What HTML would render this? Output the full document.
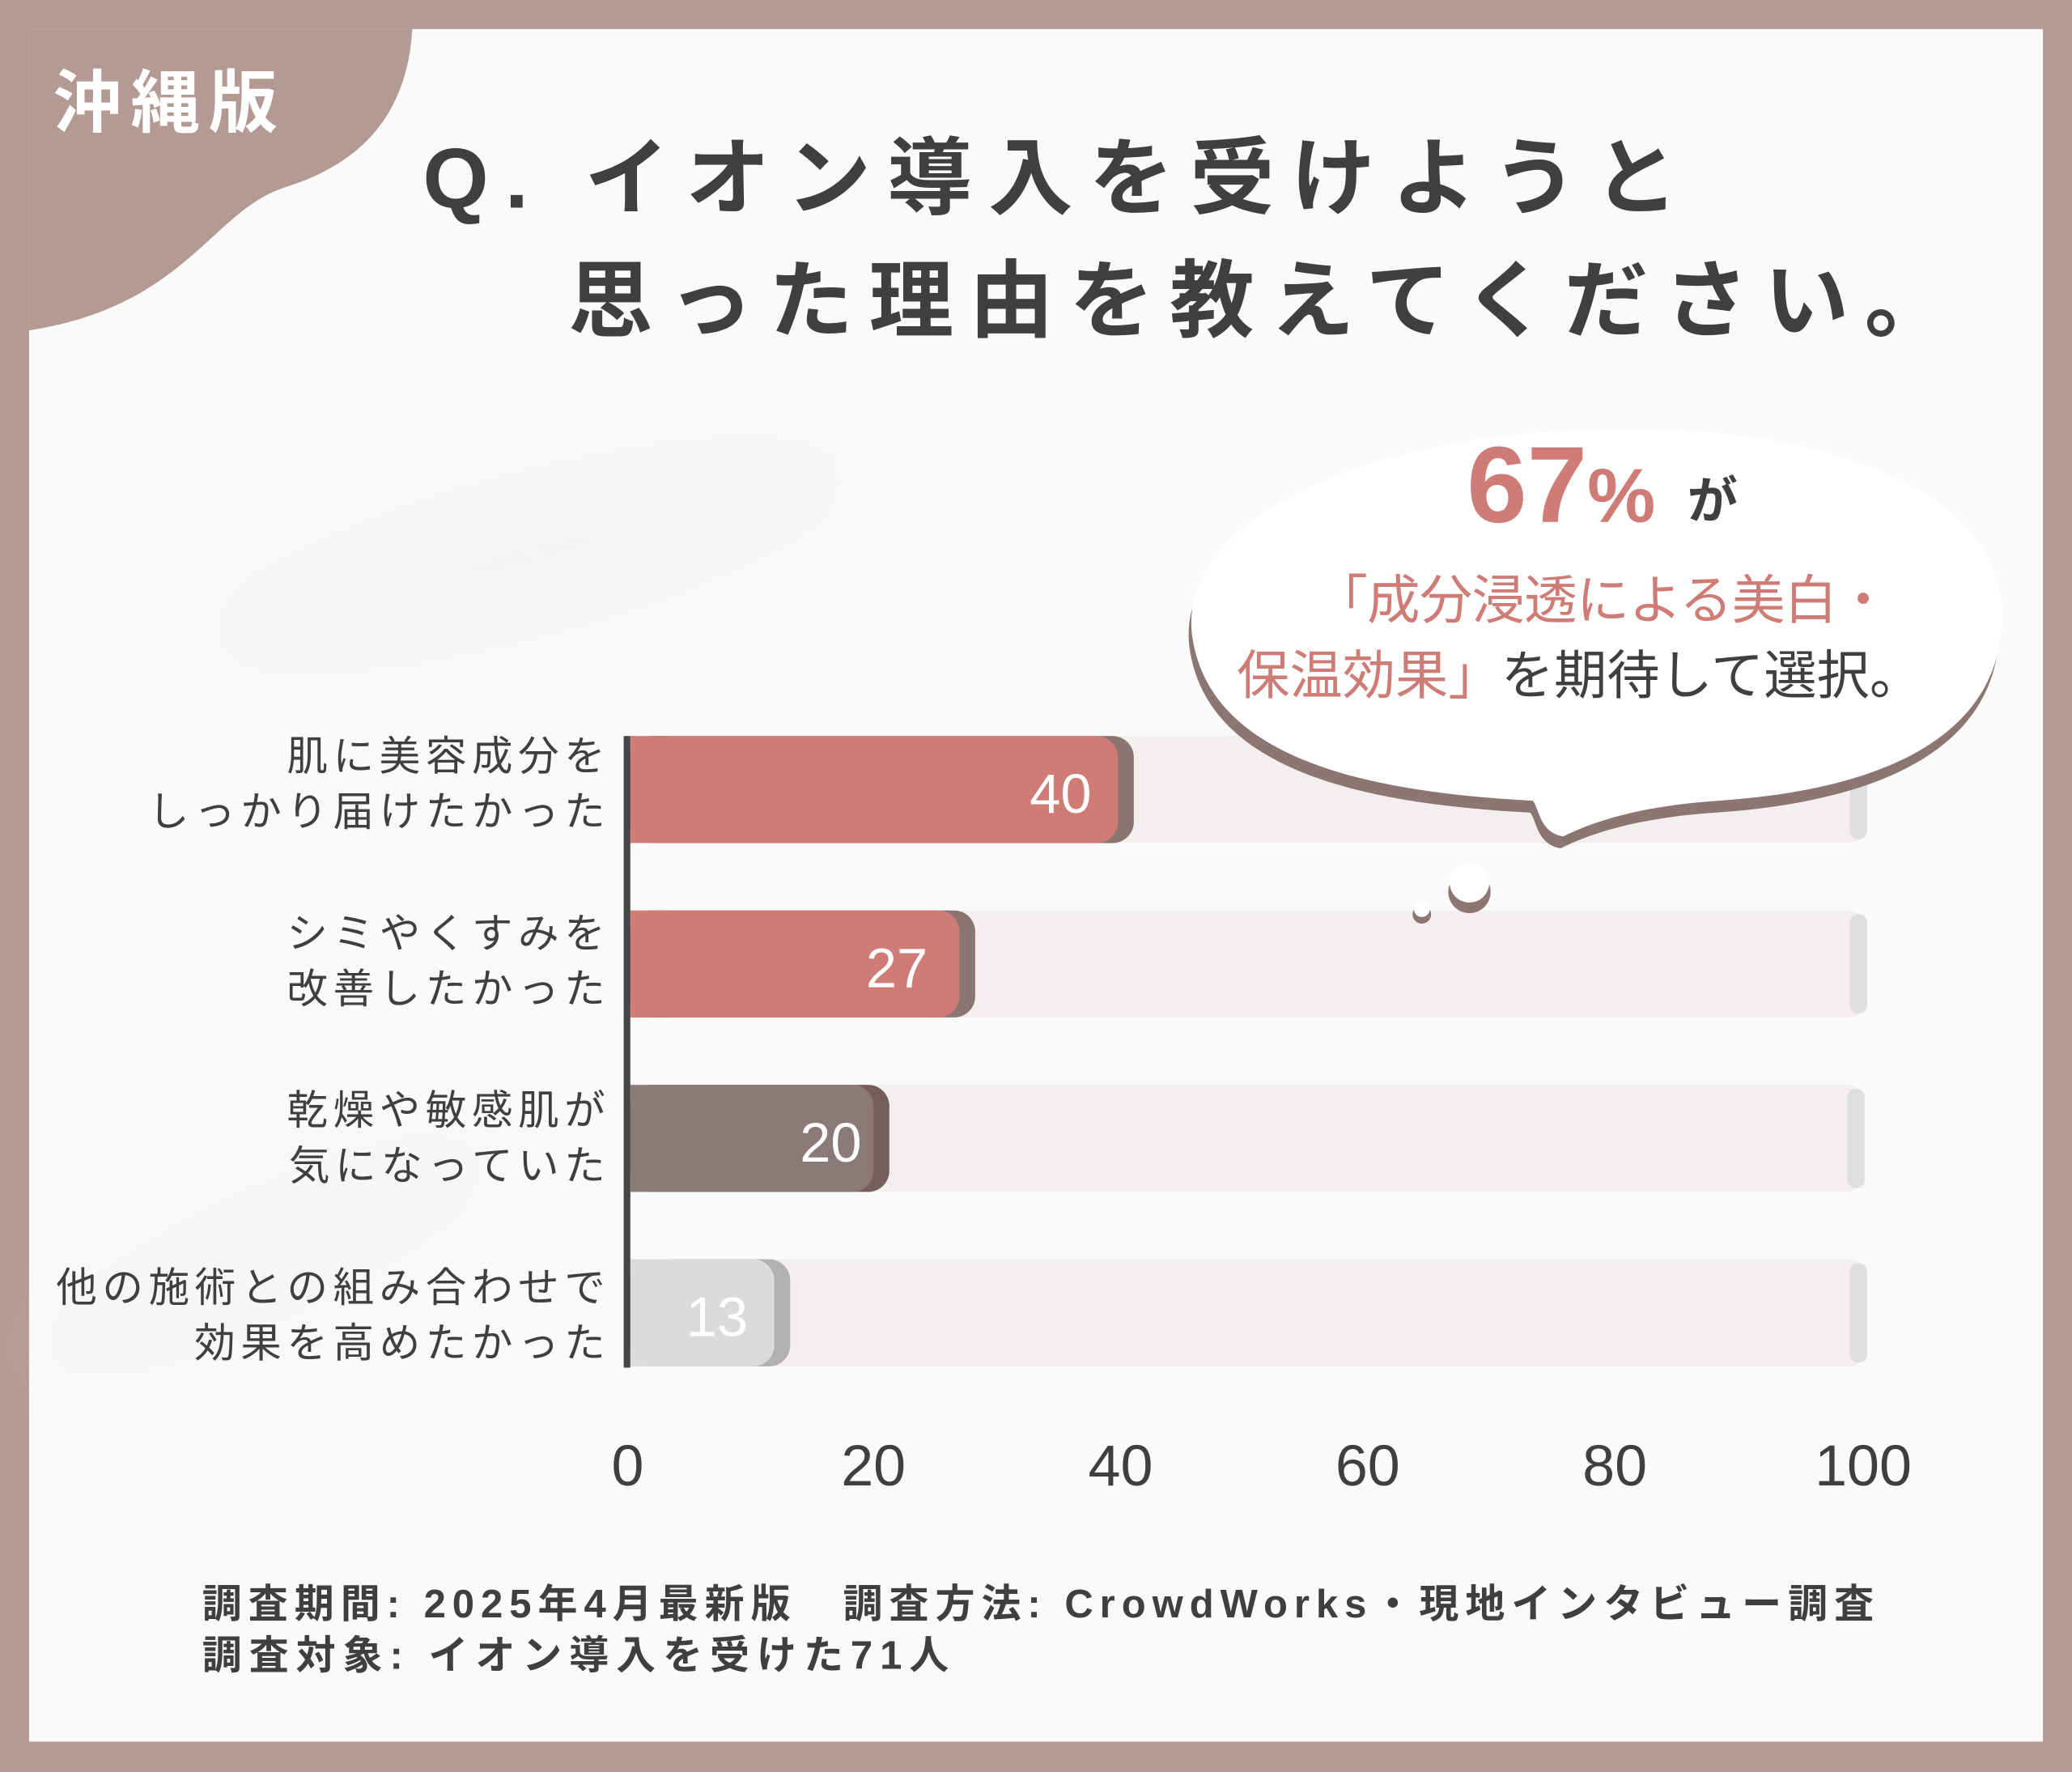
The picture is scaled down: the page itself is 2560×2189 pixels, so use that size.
<!DOCTYPE html>
<html><head><meta charset="utf-8"><style>html,body{margin:0;padding:0;background:#b39a92}svg{display:block}</style></head>
<body>
<svg width="2560" height="2189" viewBox="0 0 1568 1341" preserveAspectRatio="none" xmlns="http://www.w3.org/2000/svg" font-family="'Liberation Sans','Noto Sans CJK JP',sans-serif">
<defs><filter id="bl" x="-50%" y="-50%" width="200%" height="200%"><feGaussianBlur stdDeviation="30"/></filter></defs>
<rect x="0" y="0" width="1568" height="1341" fill="#b39a92"/>
<rect x="22" y="22" width="1524" height="1296" fill="#fafafa"/>
<g filter="url(#bl)" opacity="0.2">
<ellipse cx="400" cy="420" rx="260" ry="60" fill="#e4e4e4" transform="rotate(-15 400 420)"/>
<ellipse cx="200" cy="950" rx="200" ry="50" fill="#e6e6e6" transform="rotate(-25 200 950)"/>
</g>
<path d="M22 22 H312 C308 90 270 125 215 142 C160 160 140 232 22 250 Z" fill="#b39a92"/>
<text x="40" y="96" font-size="52" font-weight="bold" fill="#ffffff" textLength="170" lengthAdjust="spacing">沖縄版</text>
<g fill="#3f3f3f" font-weight="bold" font-size="64">
<text x="320" y="157" textLength="950" lengthAdjust="spacing">Q. イオン導入を受けようと</text>
<text x="430" y="250" textLength="1045" lengthAdjust="spacing">思った理由を教えてください。</text>
</g>
<g fill="#f2efee">
<rect x="477" y="557" width="936" height="81" rx="14"/>
<rect x="477" y="689" width="936" height="81" rx="14"/>
<rect x="477" y="821" width="934" height="81" rx="14"/>
<rect x="477" y="953" width="936" height="81" rx="14"/>
</g>
<g fill="#e0dede">
<rect x="1400" y="560" width="13" height="75" rx="6"/>
<rect x="1400" y="692" width="13" height="75" rx="6"/>
<rect x="1398" y="824" width="13" height="75" rx="6"/>
<rect x="1400" y="956" width="13" height="75" rx="6"/>
</g>
<rect x="477" y="557" width="381" height="81" rx="16" fill="#8a7570"/>
<rect x="477" y="557" width="369" height="81" rx="16" fill="#cf7b76"/>
<rect x="477" y="557" width="30" height="81" fill="#cf7b76"/>
<rect x="477" y="689" width="261" height="81" rx="16" fill="#8a7570"/>
<rect x="477" y="689" width="249" height="81" rx="16" fill="#cf7b76"/>
<rect x="477" y="689" width="30" height="81" fill="#cf7b76"/>
<rect x="477" y="821" width="196" height="81" rx="16" fill="#755f5d"/>
<rect x="477" y="821" width="184" height="81" rx="16" fill="#8c7a78"/>
<rect x="477" y="821" width="30" height="81" fill="#8c7a78"/>
<rect x="477" y="953" width="121" height="81" rx="16" fill="#b3b0b0"/>
<rect x="477" y="953" width="109" height="81" rx="16" fill="#dcdada"/>
<rect x="477" y="953" width="30" height="81" fill="#dcdada"/>
<rect x="472" y="557" width="5" height="478" fill="#454545"/>
<g fill="#ffffff" font-size="42" text-anchor="end">
<text x="826" y="615">40</text>
<text x="702" y="747">27</text>
<text x="652" y="879">20</text>
<text x="566" y="1011">13</text>
</g>
<g fill="#3f3f3f" font-size="31" text-anchor="end" letter-spacing="4">
<text x="462" y="583">肌に美容成分を</text>
<text x="462" y="625">しっかり届けたかった</text>
<text x="462" y="717">シミやくすみを</text>
<text x="462" y="759">改善したかった</text>
<text x="462" y="851">乾燥や敏感肌が</text>
<text x="462" y="893">気になっていた</text>
<text x="462" y="985">他の施術との組み合わせで</text>
<text x="462" y="1027">効果を高めたかった</text>
</g>
<g fill="#3f3f3f" font-size="44" text-anchor="middle">
<text x="475" y="1124">0</text><text x="661" y="1124">20</text><text x="848" y="1124">40</text>
<text x="1035" y="1124">60</text><text x="1222" y="1124">80</text><text x="1410" y="1124">100</text>
</g>
<g>
<path transform="translate(-2,9)" fill="#8c7672" d="M1210 325 C1400 320 1520 380 1515 470 C1512 560 1420 598 1300 606 C1240 610 1205 622 1183 633 C1165 630 1165 612 1160 606 C1050 600 915 580 902 480 C892 390 1040 328 1210 325 Z"/>
<path fill="#ffffff" d="M1210 325 C1400 320 1520 380 1515 470 C1512 560 1420 598 1300 606 C1240 610 1205 622 1183 633 C1165 630 1165 612 1160 606 C1050 600 915 580 902 480 C892 390 1040 328 1210 325 Z"/>
<circle cx="1112" cy="675" r="16" fill="#8c7672"/>
<circle cx="1112" cy="668" r="15" fill="#ffffff"/>
<circle cx="1076" cy="692" r="7" fill="#8c7672"/>
<circle cx="1076" cy="688" r="6" fill="#ffffff"/>
</g>
<text x="1110" y="395" font-size="82" font-weight="bold" fill="#cf7b76">67<tspan font-size="58">%</tspan></text>
<text x="1277" y="392" font-size="38" font-weight="bold" fill="#3f3f3f">が</text>
<text x="995" y="468" font-size="40" fill="#cf7b76" textLength="435" lengthAdjust="spacing">「成分浸透による美白・</text>
<text x="936" y="525" font-size="40" fill="#cf7b76">保温効果」<tspan fill="#3f3f3f">を期待して選択。</tspan></text>
<g fill="#3f3f3f" font-size="30" font-weight="bold">
<text x="153" y="1224" textLength="1265" lengthAdjust="spacing">調査期間: 2025年4月最新版　調査方法: CrowdWorks・現地インタビュー調査</text>
<text x="153" y="1263" textLength="565" lengthAdjust="spacing">調査対象: イオン導入を受けた71人</text>
</g>
</svg>
</body></html>
